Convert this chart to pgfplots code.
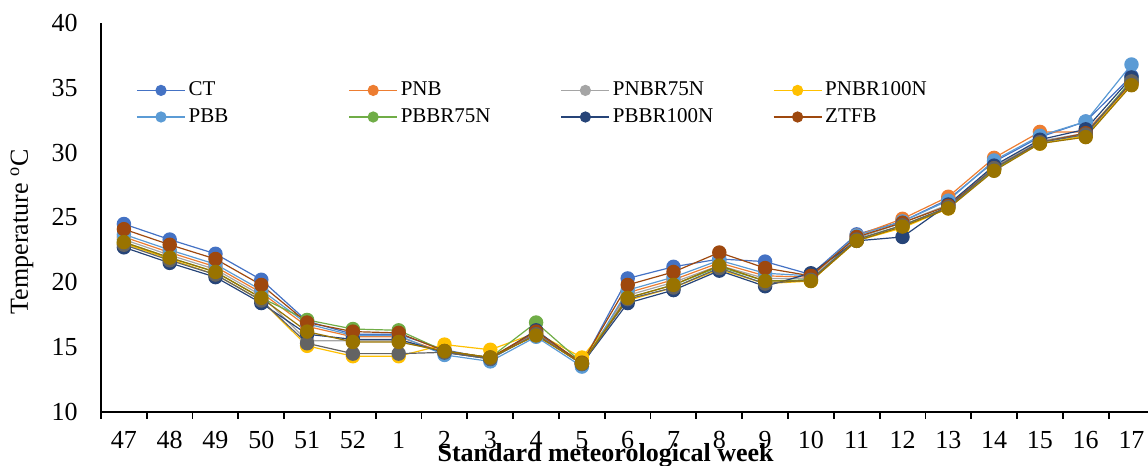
\documentclass[border=0pt]{standalone}
\usepackage{pgfplots}
\pgfplotsset{compat=1.18}
\usepackage{fontspec}
\setmainfont{Liberation Serif}

\definecolor{cCT}{HTML}{4472C4}
\definecolor{cPNB}{HTML}{ED7D31}
\definecolor{cPNBRa}{HTML}{A5A5A5}
\definecolor{cPNBRb}{HTML}{FFC000}
\definecolor{cPBB}{HTML}{5B9BD5}
\definecolor{cPBBRa}{HTML}{70AD47}
\definecolor{cPBBRb}{HTML}{264478}
\definecolor{cZTFB}{HTML}{9E480E}
\definecolor{cS9}{HTML}{636363}
\definecolor{cS10}{HTML}{997300}

\newcommand{\lent}[1]{\makebox[78.5pt][l]{#1}}

% week index 0..22 = 47,48,49,50,51,52,1,...,17
\pgfplotstableread{
x  CT    PNB   PNBRa PNBRb PBB   PBBRa PBBRb ZTFB  S9    S10
0  24.5  23.5  23.3  23.0  23.7  23.1  22.7  24.1  22.9  23.1
1  23.3  22.3  22.1  21.8  22.5  21.9  21.5  22.9  21.7  21.9
2  22.2  21.2  21.0  20.6  21.4  20.8  20.4  21.8  20.6  20.8
3  20.2  19.2  19.0  18.6  19.4  18.8  18.4  19.8  18.6  18.8
4  17.0  16.6  15.5  15.1  16.8  17.1  16.0  16.9  15.3  16.2
5  16.0  15.8  15.5  14.3  15.9  16.4  15.6  16.2  14.5  15.4
6  16.0  15.8  15.5  14.3  15.9  16.3  15.6  16.1  14.5  15.4
7  14.8  14.6  14.6  15.2  14.4  14.7  14.6  14.7  14.6  14.7
8  14.1  14.2  14.1  14.8  13.9  14.2  14.1  14.2  14.1  14.2
9  16.1  16.0  16.0  16.1  15.8  16.9  16.3  16.2  16.0  15.9
10 13.7  13.7  13.7  14.2  13.5  13.8  13.7  13.8  13.7  13.75
11 20.3  19.2  19.0  18.6  19.4  18.8  18.4  19.8  18.7  18.8
12 21.2  20.2  20.0  19.6  20.4  19.8  19.4  20.8  19.6  19.8
13 21.8  21.5  21.3  21.0  21.7  21.2  20.9  22.3  21.1  21.3
14 21.6  20.5  20.3  19.9  20.7  20.1  19.7  21.1  19.9  20.1
15 20.6  20.4  20.3  20.1  20.5  20.2  20.7  20.5  20.2  20.1
16 23.7  23.6  23.4  23.2  23.6  23.3  23.2  23.5  23.3  23.2
17 24.7  24.9  24.6  24.2  24.7  24.4  23.5  24.6  24.4  24.3
18 26.4  26.6  26.0  25.7  26.3  25.8  26.0  25.9  25.8  25.7
19 29.3  29.6  28.9  28.7  29.4  28.7  29.0  28.8  28.8  28.6
20 31.2  31.6  30.9  30.7  31.3  30.8  31.0  30.8  30.8  30.7
21 32.4  31.6  31.5  31.3  32.4  31.4  31.8  31.5  31.4  31.2
22 35.9  35.4  35.5  35.3  36.8  35.6  35.8  35.4  35.5  35.2
}\temps

\begin{document}
\begin{tikzpicture}
\begin{axis}[
  name=ax,
  at={(0,0)}, anchor=south west,
  scale only axis,
  width=526.7pt, height=194.5pt,
  xmin=-0.5, xmax=22.5,
  ymin=10, ymax=40,
  ytick={10,15,...,40},
  xtick={0,...,22},
  xticklabels={47,48,49,50,51,52,1,2,3,4,5,6,7,8,9,10,11,12,13,14,15,16,17},
  axis x line=bottom, axis y line=left,
  axis line style={-, line width=0.9pt},
  major tick length=0pt,
  extra x ticks={-0.5,0.5,...,22.5},
  extra x tick labels={},
  extra x tick style={major tick length=3.5pt, tick align=outside, tick style={black, line width=0.9pt}},
  /pgf/number format/assume math mode=true,
  tick label style={font=\fontsize{13}{15}\selectfont},
  xticklabel style={anchor=center, yshift=-14pt},
  yticklabel style={anchor=east, inner sep=0pt, xshift=-11.5pt},
  xlabel={\textbf{Standard meteorological week}},
  ylabel={Temperature \textsuperscript{o}C},
  label style={font=\fontsize{13}{15}\selectfont},
  xlabel style={at={(axis description cs:0.479,0)}, anchor=center, yshift=-21.8pt},
  ylabel style={at={(axis description cs:-0.075,0.463)}, anchor=center},
  every axis plot/.append style={line width=0.6pt, mark=*, mark size=3.3pt},
  legend columns=4,
  legend cell align=left,
  legend image code/.code={
    \draw[mark repeat=2, mark phase=2, mark size=2.5pt]
      plot coordinates {(0pt,0pt) (12pt,0pt) (24pt,0pt)};},
  legend style={draw=none, fill=none, inner sep=0pt,
    at={(axis description cs:0,1)}, anchor=north west,
    xshift=17.5pt, yshift=-26.85pt,
    font=\fontsize{10.5}{12.5}\selectfont,
    row sep=0pt,
    nodes={inner xsep=1.5pt, inner ysep=1.4pt, text height=8pt, text depth=2.5pt}},
]
\addplot[color=cCT, mark options={fill=cCT, draw=cCT}] table[x=x, y=CT] {\temps};
\addlegendentry{\lent{CT}}
\addplot[color=cPNB, mark options={fill=cPNB, draw=cPNB}] table[x=x, y=PNB] {\temps};
\addlegendentry{\lent{PNB}}
\addplot[color=cPNBRa, mark options={fill=cPNBRa, draw=cPNBRa}] table[x=x, y=PNBRa] {\temps};
\addlegendentry{\lent{PNBR75N}}
\addplot[color=cPNBRb, mark options={fill=cPNBRb, draw=cPNBRb}] table[x=x, y=PNBRb] {\temps};
\addlegendentry{\lent{PNBR100N}}
\addplot[color=cPBB, mark options={fill=cPBB, draw=cPBB}] table[x=x, y=PBB] {\temps};
\addlegendentry{\lent{PBB}}
\addplot[color=cPBBRa, mark options={fill=cPBBRa, draw=cPBBRa}] table[x=x, y=PBBRa] {\temps};
\addlegendentry{\lent{PBBR75N}}
\addplot[color=cPBBRb, mark options={fill=cPBBRb, draw=cPBBRb}] table[x=x, y=PBBRb] {\temps};
\addlegendentry{\lent{PBBR100N}}
\addplot[color=cZTFB, mark options={fill=cZTFB, draw=cZTFB}] table[x=x, y=ZTFB] {\temps};
\addlegendentry{\lent{ZTFB}}
\addplot[color=cS9, mark options={fill=cS9, draw=cS9}, forget plot] table[x=x, y=S9] {\temps};
\addplot[color=cS10, mark options={fill=cS10, draw=cS10}, forget plot] table[x=x, y=S10] {\temps};
\end{axis}
\pgfresetboundingbox
\path[use as bounding box] (ax.south west) ++(-50.5pt,-27pt) rectangle ++(574pt,233pt);
\end{tikzpicture}
\end{document}
